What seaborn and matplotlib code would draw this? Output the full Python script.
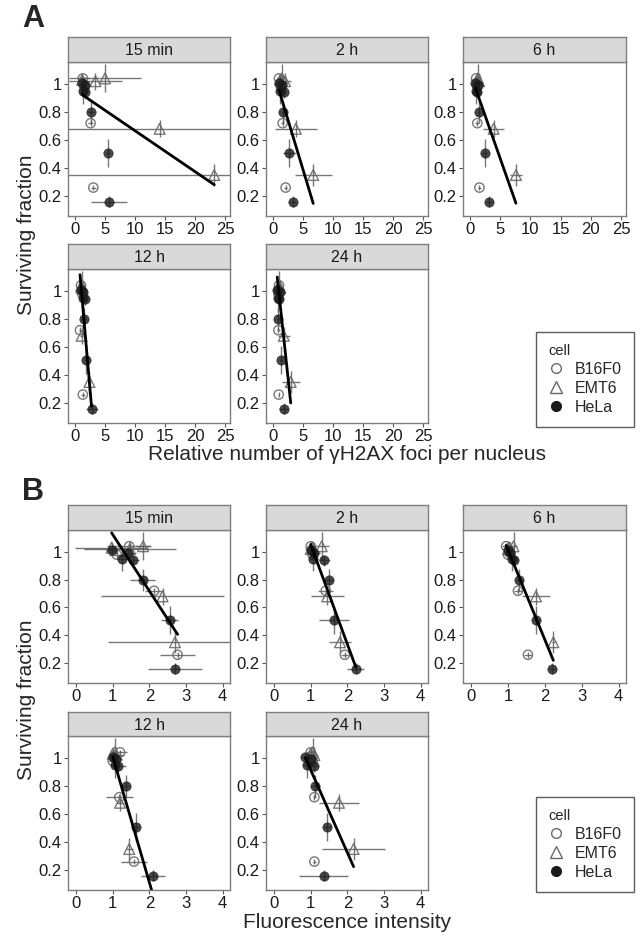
import numpy as np
import pandas as pd
import matplotlib
matplotlib.use("Agg")
import matplotlib.pyplot as plt
import seaborn as sns
from matplotlib.lines import Line2D

times = ["15 min", "2 h", "6 h", "12 h", "24 h"]
cells = ["B16F0", "EMT6", "HeLa"]

# surviving fraction per dose (same for every time point)
b16_sf = [1.04, 0.98, 0.72, 0.26]
b16_sf_err = [0.02, 0.03, 0.02, 0.02]
emt6_sf = [1.03, 1.02, 1.04, 0.68, 0.35]
emt6_sf_err = [0.04, 0.06, 0.10, 0.06, 0.08]
hela_sf = [1.01, 0.99, 0.95, 0.94, 0.80, 0.51, 0.16]
hela_sf_err = [0.02, 0.04, 0.09, 0.04, 0.08, 0.10, 0.04]

# relative number of gH2AX foci per nucleus, rows = time points
b16_foci = [[1.3, 1.6, 2.6, 3.05], [1.0, 1.3, 1.6, 2.1], [1.0, 1.2, 1.2, 1.55],
            [1.0, 1.2, 0.83, 1.3], [1.0, 0.9, 0.9, 0.95]]
b16_foci_err = [[1.0, 0.5, 0.4, 0.4], [0.3, 0.3, 0.3, 0.3], [0.3, 0.3, 0.3, 0.3],
                [0.2, 0.2, 0.2, 0.3], [0.2, 0.2, 0.2, 0.1]]
emt6_foci = [[1.2, 3.4, 5.0, 14.1, 23.2], [1.2, 2.0, 1.5, 3.8, 6.7], [1.2, 1.5, 1.3, 3.9, 7.6],
             [1.0, 1.2, 1.1, 1.1, 2.4], [1.0, 1.2, 1.0, 1.8, 2.95]]
emt6_foci_err = [[0.5, 4.4, 6.0, 16.0, 25.0], [0.3, 1.0, 0.3, 3.5, 3.1], [0.3, 0.3, 0.3, 1.7, 1.0],
                 [0.3, 0.3, 0.2, 0.3, 0.3], [0.2, 0.3, 0.2, 1.0, 1.5]]
hela_foci = [[1.2, 1.6, 1.4, 1.7, 2.6, 5.5, 5.7], [1.0, 1.5, 1.2, 1.8, 1.6, 2.7, 3.3],
             [0.9, 1.3, 1.0, 1.2, 1.4, 2.4, 3.2], [1.0, 1.4, 1.3, 1.6, 1.55, 1.8, 2.75],
             [0.7, 1.1, 0.8, 1.0, 0.9, 1.33, 1.75]]
hela_foci_err = [[0.4, 0.3, 0.3, 0.3, 0.5, 0.3, 3.0], [0.3, 0.4, 0.4, 0.4, 0.3, 1.1, 0.6],
                 [0.3, 0.3, 0.3, 0.3, 0.3, 0.4, 0.5], [0.3, 0.3, 0.3, 0.3, 0.2, 0.3, 1.0],
                 [0.3, 0.3, 0.3, 0.3, 0.2, 0.3, 0.7]]

# fluorescence intensity, rows = time points
b16_fluo = [[1.45, 1.11, 2.13, 2.77], [1.0, 1.05, 1.41, 1.93], [0.95, 1.0, 1.27, 1.54],
            [1.2, 1.0, 1.18, 1.58], [1.0, 1.05, 1.1, 1.1]]
b16_fluo_err = [[0.6, 0.2, 0.25, 0.48], [0.1, 0.1, 0.2, 0.1], [0.1, 0.1, 0.1, 0.1],
                [0.2, 0.1, 0.36, 0.36], [0.1, 0.1, 0.05, 0.05]]
emt6_fluo = [[0.97, 1.47, 1.83, 2.36, 2.70], [1.05, 1.0, 1.3, 1.45, 1.8], [1.05, 1.0, 1.15, 1.76, 2.23],
             [1.0, 1.1, 1.05, 1.2, 1.45], [1.0, 1.1, 1.05, 1.77, 2.17]]
emt6_fluo_err = [[1.0, 1.25, 0.2, 1.68, 1.82], [0.1, 0.15, 0.2, 0.45, 0.3], [0.1, 0.15, 0.1, 0.38, 0.05],
                 [0.1, 0.2, 0.1, 0.1, 0.1], [0.1, 0.1, 0.1, 0.55, 0.85]]
hela_fluo = [[0.97, 1.43, 1.26, 1.56, 1.82, 2.56, 2.70], [1.0, 1.1, 1.05, 1.37, 1.5, 1.64, 2.23],
             [1.0, 1.05, 1.1, 1.15, 1.31, 1.77, 2.2], [1.0, 1.1, 1.05, 1.15, 1.35, 1.63, 2.1],
             [0.85, 1.0, 0.9, 1.1, 1.13, 1.45, 1.35]]
hela_fluo_err = [[0.15, 0.2, 0.15, 0.15, 0.34, 0.23, 0.73], [0.1, 0.15, 0.1, 0.15, 0.1, 0.41, 0.23],
                 [0.1, 0.15, 0.1, 0.1, 0.1, 0.1, 0.1], [0.1, 0.15, 0.1, 0.2, 0.1, 0.1, 0.33],
                 [0.1, 0.15, 0.1, 0.1, 0.1, 0.1, 0.66]]

# linear fits per time point
foci_slope = [-0.0292, -0.142, -0.1226, -0.49, -0.40]
foci_intercept = [0.958, 1.098, 1.08, 1.523, 1.38]
fluo_slope = [-0.4056, -0.717, -0.646, -0.9, -0.59]
fluo_intercept = [1.53, 1.77, 1.66, 1.911, 1.504]

foci_ticks = [0, 5, 10, 15, 20, 25]
fluo_ticks = [0, 1, 2, 3, 4]
sf_ticks = [0.2, 0.4, 0.6, 0.8, 1.0]
sf_tick_labels = ["0.2", "0.4", "0.6", "0.8", "1"]

styles = {
    "B16F0": dict(marker="o", s=45, facecolor="none", edgecolor="#6a6a6a", linewidth=1.0, alpha=0.9),
    "EMT6": dict(marker="^", s=60, facecolor="none", edgecolor="#6a6a6a", linewidth=1.0, alpha=0.9),
    "HeLa": dict(marker="o", s=45, facecolor="#1a1a1a", edgecolor="#1a1a1a", linewidth=0.5, alpha=0.8),
}

W, H = 640, 940
col_px = [(68, 230), (266, 428), (463, 626)]


def build_frame(x_sets, err_sets):
    rows = []
    sf_sets = {"B16F0": (b16_sf, b16_sf_err), "EMT6": (emt6_sf, emt6_sf_err), "HeLa": (hela_sf, hela_sf_err)}
    for cell in cells:
        sf, sf_err = sf_sets[cell]
        for t, time in enumerate(times):
            for i in range(len(sf)):
                rows.append({"time": time, "cell": cell, "x": x_sets[cell][t][i],
                             "xerr": err_sets[cell][t][i], "sf": sf[i], "sf_err": sf_err[i]})
    return pd.DataFrame(rows)


def px_rect(x0, x1, y0, y1):
    return [x0 / W, 1 - y1 / H, (x1 - x0) / W, (y1 - y0) / H]


def draw_panel(fig, df, time, slope, intercept, rect, strip_rect, xlim, xticks):
    ax = fig.add_axes(rect)
    sub = df[df.time == time]
    for cell in cells:
        d = sub[sub.cell == cell]
        ax.errorbar(d.x, d.sf, xerr=d.xerr, yerr=d.sf_err, fmt="none",
                    ecolor="#555555", elinewidth=1.0, alpha=0.8, zorder=2)
    for cell in cells:
        d = sub[sub.cell == cell]
        sns.scatterplot(data=d, x="x", y="sf", ax=ax, legend=False, zorder=3, **styles[cell])
    xs = np.array([sub.x.min(), sub.x.max()])
    sns.lineplot(x=xs, y=intercept + slope * xs, ax=ax, color="black", lw=2, zorder=4)
    ax.set_xlim(*xlim)
    ax.set_ylim(0.057, 1.157)
    ax.set_xticks(xticks)
    ax.set_yticks(sf_ticks)
    ax.set_yticklabels(sf_tick_labels)
    ax.set_xlabel("")
    ax.set_ylabel("")
    ax.tick_params(bottom=True, left=True, direction="out", length=3, width=0.8, color="#555555",
                   labelsize=12, labelcolor="#1a1a1a", pad=1.5)
    for sp in ax.spines.values():
        sp.set_color("#7f7f7f")
        sp.set_linewidth(1.0)

    st = fig.add_axes(strip_rect)
    st.set_facecolor("#d9d9d9")
    st.set_xticks([])
    st.set_yticks([])
    for sp in st.spines.values():
        sp.set_color("#7f7f7f")
        sp.set_linewidth(1.0)
    st.text(0.5, 0.45, time, ha="center", va="center", fontsize=11.5, color="#1a1a1a")
    return ax


def draw_block(fig, df, slopes, intercepts, rows_px, xlim, xticks, legend_top):
    for k, time in enumerate(times):
        r, c = divmod(k, 3)
        strip_top, strip_bot, plot_bot = rows_px[r]
        x0, x1 = col_px[c]
        draw_panel(fig, df, time, slopes[k], intercepts[k],
                   px_rect(x0, x1, strip_bot, plot_bot), px_rect(x0, x1, strip_top, strip_bot),
                   xlim, xticks)
    handles = [
        Line2D([], [], ls="none", marker="o", ms=7, mfc="none", mec="#6a6a6a", mew=1.0),
        Line2D([], [], ls="none", marker="^", ms=8, mfc="none", mec="#6a6a6a", mew=1.0),
        Line2D([], [], ls="none", marker="o", ms=7, mfc="#1a1a1a", mec="#1a1a1a"),
    ]
    leg = fig.legend(handles, cells, title="cell", loc="upper left",
                     bbox_to_anchor=(536 / W, 1 - legend_top / H), borderaxespad=0,
                     fontsize=11.5, title_fontsize=10.5, frameon=True, fancybox=False,
                     handlelength=1.0, handletextpad=0.7, labelspacing=0.25, borderpad=0.75,
                     alignment="left")
    leg.get_frame().set_edgecolor("#333333")
    leg.get_frame().set_linewidth(1.0)


sns.set_theme(style="white")
plt.rcParams["font.family"] = ["Liberation Sans", "DejaVu Sans"]

fig = plt.figure(figsize=(6.4, 9.4), dpi=100)

foci_df = build_frame({"B16F0": b16_foci, "EMT6": emt6_foci, "HeLa": hela_foci},
                      {"B16F0": b16_foci_err, "EMT6": emt6_foci_err, "HeLa": hela_foci_err})
fluo_df = build_frame({"B16F0": b16_fluo, "EMT6": emt6_fluo, "HeLa": hela_fluo},
                      {"B16F0": b16_fluo_err, "EMT6": emt6_fluo_err, "HeLa": hela_fluo_err})

draw_block(fig, foci_df, foci_slope, foci_intercept, [(37, 62, 216), (244, 269, 423)],
           (-1.17, 25.83), foci_ticks, 332)
draw_block(fig, fluo_df, fluo_slope, fluo_intercept, [(505, 530, 683), (712, 736, 890)],
           (-0.22, 4.2), fluo_ticks, 797)

fig.text(22 / W, 1 - 19 / H, "A", fontsize=22, fontweight="bold", va="center", ha="left")
fig.text(22 / W, 1 - 492 / H, "B", fontsize=22, fontweight="bold", va="center", ha="left")
fig.text(27 / W, 1 - 235 / H, "Surviving fraction", rotation=90, fontsize=15, va="center", ha="center")
fig.text(27 / W, 1 - 700 / H, "Surviving fraction", rotation=90, fontsize=15, va="center", ha="center")
fig.text(347 / W, 1 - 455 / H, "Relative number of \u03b3H2AX foci per nucleus", fontsize=15,
         va="center", ha="center")
fig.text(347 / W, 1 - 922 / H, "Fluorescence intensity", fontsize=15, va="center", ha="center")

fig.savefig("out.png", dpi=100, facecolor="white")
